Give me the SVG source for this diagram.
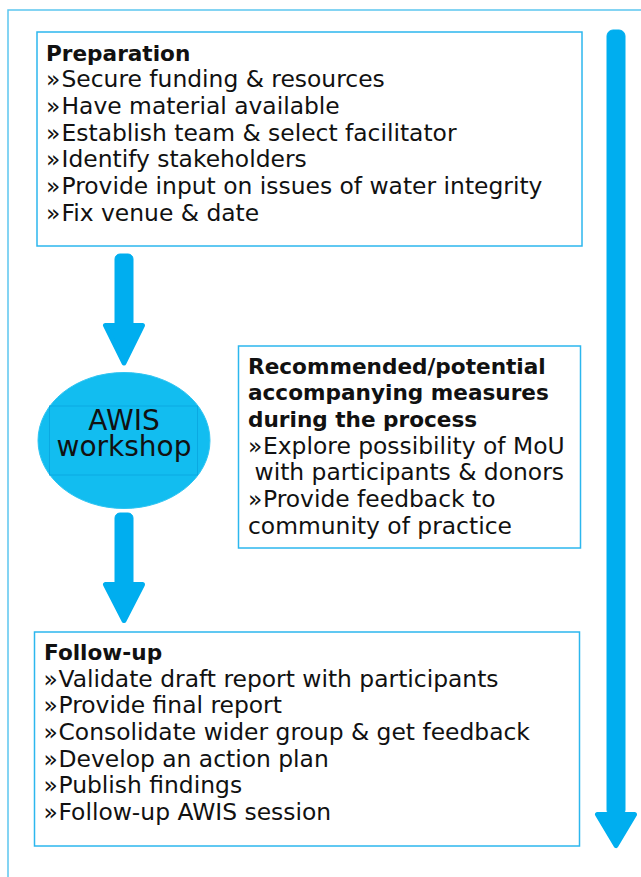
<svg xmlns="http://www.w3.org/2000/svg" width="641" height="877" viewBox="0 0 641 877">
  <style>
    .box { fill: #ffffff; stroke: #2cb7ee; stroke-width: 1.5; }
    .frame { fill: none; stroke: #5cc6f0; stroke-width: 1.5; }
    .t { font-family: "DejaVu Sans", "Liberation Sans", sans-serif; font-size: 23.4px; fill: #111111; }
    .h { font-family: "DejaVu Sans", "Liberation Sans", sans-serif; font-size: 21.6px; font-weight: bold; fill: #111111; }
    .w { font-family: "DejaVu Sans", "Liberation Sans", sans-serif; font-size: 28px; fill: #111111; }
    .arrow { fill: #00aeef; stroke: #00aeef; stroke-linejoin: round; }
    .head { stroke-width: 5; }
  </style>
  <rect width="641" height="877" fill="#ffffff"/>

  <!-- outer frame: top and left edges only -->
  <path class="frame" d="M8 877 V10 H641"/>

  <!-- connectors -->
  <g id="connectors">
    <!-- preparation to workshop -->
    <rect class="arrow" x="115" y="254" width="18" height="74" rx="5" stroke="none"/>
    <polygon class="arrow head" points="105.5,325.5 142.5,325.5 124,363"/>
    <!-- workshop to follow-up -->
    <rect class="arrow" x="115" y="513" width="18" height="74" rx="5" stroke="none"/>
    <polygon class="arrow head" points="105.5,584.5 142.5,584.5 124,620.5"/>
    <!-- overall process timeline -->
    <rect class="arrow" x="607" y="30" width="18" height="786" rx="6" stroke="none"/>
    <polygon class="arrow head" points="597.5,814.5 634.5,814.5 616,845.5"/>
  </g>

  <g id="preparation">
    <rect class="box" x="37" y="32" width="545" height="214"/>
    <text class="h" x="46" y="60.5">Preparation</text>
    <text class="t" x="46" y="87.3">»</text><text class="t" x="61.5" y="87.3">Secure funding &amp; resources</text>
    <text class="t" x="46" y="114">»</text><text class="t" x="61.5" y="114">Have material available</text>
    <text class="t" x="46" y="140.7">»</text><text class="t" x="61.5" y="140.7">Establish team &amp; select facilitator</text>
    <text class="t" x="46" y="167.3">»</text><text class="t" x="61.5" y="167.3">Identify stakeholders</text>
    <text class="t" x="46" y="194">»</text><text class="t" x="61.5" y="194">Provide input on issues of water integrity</text>
    <text class="t" x="46" y="220.7">»</text><text class="t" x="61.5" y="220.7">Fix venue &amp; date</text>
  </g>

  <g id="awis-workshop">
    <ellipse cx="124" cy="440.5" rx="86" ry="68" fill="#12bdf0" stroke="#2ec4f2" stroke-width="1"/>
    <rect x="49.5" y="406" width="148" height="69" fill="none" stroke="#0aa9e2" stroke-width="1"/>
    <text class="w" x="124" y="429.5" text-anchor="middle">AWIS</text>
    <text class="w" x="124" y="456" text-anchor="middle">workshop</text>
  </g>

  <g id="accompanying-measures">
    <rect class="box" x="238.5" y="346" width="342" height="202"/>
    <text class="h" x="248" y="373.5">Recommended/potential</text>
    <text class="h" x="248" y="400.2">accompanying measures</text>
    <text class="h" x="248" y="426.8">during the process</text>
    <text class="t" x="248" y="453.5">»</text><text class="t" x="263" y="453.5">Explore possibility of MoU</text>
    <text class="t" x="254.5" y="480.2">with participants &amp; donors</text>
    <text class="t" x="248" y="506.8">»</text><text class="t" x="263" y="506.8">Provide feedback to</text>
    <text class="t" x="248" y="533.5">community of practice</text>
  </g>

  <g id="follow-up">
    <rect class="box" x="34.5" y="632" width="545" height="214"/>
    <text class="h" x="44" y="660">Follow-up</text>
    <text class="t" x="43.5" y="686.7">»</text><text class="t" x="58.5" y="686.7">Validate draft report with participants</text>
    <text class="t" x="43.5" y="713.3">»</text><text class="t" x="58.5" y="713.3">Provide final report</text>
    <text class="t" x="43.5" y="740">»</text><text class="t" x="58.5" y="740">Consolidate wider group &amp; get feedback</text>
    <text class="t" x="43.5" y="766.7">»</text><text class="t" x="58.5" y="766.7">Develop an action plan</text>
    <text class="t" x="43.5" y="793.3">»</text><text class="t" x="58.5" y="793.3">Publish findings</text>
    <text class="t" x="43.5" y="820">»</text><text class="t" x="58.5" y="820">Follow-up AWIS session</text>
  </g>
</svg>
